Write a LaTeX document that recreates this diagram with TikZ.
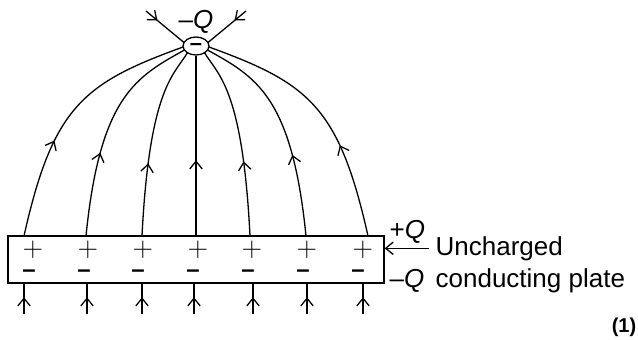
\documentclass[tikz,border=0pt]{standalone}
\usepackage{fontspec}
\setmainfont{Liberation Sans}
\usetikzlibrary{arrows.meta,decorations.markings,shapes.geometric}
\tikzset{
  fbarb/.tip={Straight Barb[length=3.8pt,width=6.2pt,line width=0.65pt]},
  midarrow/.style={postaction={decorate},decoration={markings,mark=at position #1 with {\arrow{fbarb}}}},
  lbl/.style={inner sep=0pt,font=\fontsize{13}{15}\selectfont},
  plusmark/.style={inner sep=0pt,font=\fontfamily{lmr}\fontsize{13.5}{13.5}\selectfont},
  minusmark/.style={inner sep=0pt,font=\fontsize{12}{12}\selectfont\bfseries},
}
\begin{document}
\begin{tikzpicture}[x=0.5pt,y=-0.5pt,line width=0.65pt]
\useasboundingbox (0,0) rectangle (638,339);
% plate
\node[draw,minimum width=188pt,minimum height=23.5pt,inner sep=0pt] (plate) at (196,259.5) {};
% charge
\node[draw,ellipse,minimum width=13pt,minimum height=9pt,inner sep=0pt] (q) at (196,46) {};
\node[inner sep=0pt,font=\fontsize{11}{11}\selectfont\bfseries] (qm) at (196,47) {–};
\node[inner sep=0pt,anchor=base,font=\fontsize{13}{15}\selectfont] (qlab) at (196,28) {–\textit{Q}};
% signs
\foreach \x [count=\i] in {33,88,143,198,252,307,363}
  \node[plusmark] (p\i) at (\x,249.5) {+};
\foreach \x [count=\i] in {29,84,138,193,248,303,358}
  \node[minusmark] (n\i) at (\x,274) {–};
% field line feet on the plate
\coordinate (f1) at (24,236);
\coordinate (f2) at (86,236);
\coordinate (f3) at (142,236);
\coordinate (f4) at (196,236);
\coordinate (f5) at (250,236);
\coordinate (f6) at (306,236);
\coordinate (f7) at (368,236);
% field line ends on the charge
\coordinate (e1) at (183,47);
\coordinate (e2) at (184.5,50);
\coordinate (e3) at (187.4,52.7);
\coordinate (e5) at (204.6,52.7);
\coordinate (e6) at (207.5,50);
\coordinate (e7) at (209,47);
\draw[midarrow=0.38] (f1) .. controls (53,106) and (84,83) .. (e1);
\draw[midarrow=0.38] (f2) .. controls (100,96) and (136.4,76.7) .. (e2);
\draw[midarrow=0.38] (f3) .. controls (149.5,86) and (174.9,74.4) .. (e3);
\draw[midarrow=0.42] (f4) -- (q.south);
\draw[midarrow=0.39] (f5) .. controls (242.5,86) and (217.1,74.4) .. (e5);
\draw[midarrow=0.37] (f6) .. controls (292,96) and (255.6,76.7) .. (e6);
\draw[midarrow=0.36] (f7) .. controls (339,106) and (308,83) .. (e7);
% incoming lines at charge
\coordinate (d1) at (146,11);
\coordinate (d2) at (246,11);
\coordinate (g1) at (184,42.5);
\coordinate (g2) at (208,42.5);
\draw[midarrow=0.3] (d1) -- (g1);
\draw[midarrow=0.3] (d2) -- (g2);
% lines below plate
\foreach \x [count=\i] in {24,87,142,194,253,307,363} {
  \coordinate (b\i) at (\x,314);
  \draw[midarrow=0.55] (b\i) -- (b\i |- plate.south);
}
% labels
\node[lbl,anchor=base west] (pq) at (389,238) {+\textit{Q}};
\node[lbl,anchor=base west] (mq) at (389,287) {–\textit{Q}};
\node[lbl,anchor=base west] (unch) at (435,255) {Uncharged};
\node[lbl,anchor=base west] (cond) at (435,287) {conducting plate};
\draw[-fbarb] ([xshift=-3pt]unch.west) -- (plate.east |- unch.west);
\node[inner sep=0pt,font=\fontsize{10}{12}\selectfont\bfseries] (mark1) at (624,327) {(1)};
\end{tikzpicture}
\end{document}
